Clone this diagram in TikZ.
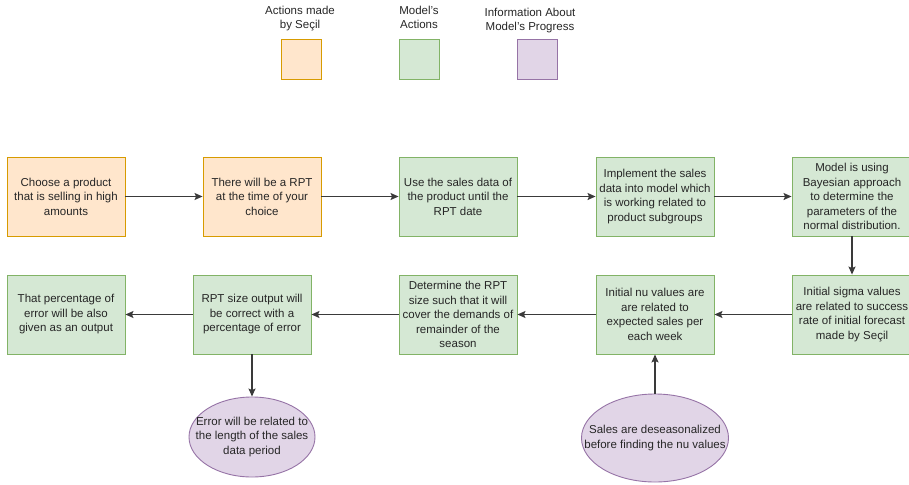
\documentclass[tikz,border=0pt]{standalone}
\usepackage{fontspec}
\setmainfont{Liberation Sans}
\usetikzlibrary{arrows.meta,shapes.geometric}

\definecolor{orfill}{HTML}{FFE6CC}
\definecolor{ordraw}{HTML}{D79B00}
\definecolor{grfill}{HTML}{D5E8D4}
\definecolor{grdraw}{HTML}{82B366}
\definecolor{pufill}{HTML}{E1D5E7}
\definecolor{pudraw}{HTML}{9673A6}
\definecolor{txt}{HTML}{262626}
\definecolor{link}{HTML}{3A3A3A}

\tikzset{
  lbl/.style={font=\fontsize{11.5}{14}\selectfont, text=txt, align=center, inner sep=0pt},
  notetext/.style={font=\fontsize{11.5}{14.5}\selectfont, text=txt, align=center, inner sep=0pt},
  stepbox/.style={rectangle, draw, line width=0.9pt, minimum width=118pt, minimum height=79pt,
    inner sep=1pt, align=center, font=\fontsize{11.5}{14.5}\selectfont, text=txt},
  seciltask/.style={stepbox, fill=orfill, draw=ordraw},
  modeltask/.style={stepbox, fill=grfill, draw=grdraw},
  swatch/.style={rectangle, draw, line width=0.9pt, minimum width=40pt, minimum height=40pt, inner sep=0pt},
  infonote/.style={ellipse, draw=pudraw, fill=pufill, line width=0.9pt, inner sep=0pt},
  flow/.style={draw=link, line width=1.2pt, -{Stealth[length=8pt,width=7pt,inset=1.5pt]}}
}

\begin{document}
\begin{tikzpicture}[x=1pt,y=-1pt]
\useasboundingbox (0,0) rectangle (909,484);

% legend
\node[lbl] (legA) at (300,19) {Actions made\\by Seçil};
\node[lbl] (legB) at (419,17) {Model's\\Actions};
\node[lbl] (legC) at (530,21) {Information About\\Model's Progress};
\node[swatch, fill=orfill, draw=ordraw] (swA) at (301,59) {};
\node[swatch, fill=grfill, draw=grdraw] (swB) at (419,59) {};
\node[swatch, fill=pufill, draw=pudraw] (swC) at (537,59) {};

% first row
\node[seciltask] (choose) at (66,196.5) {Choose a product\\that is selling in high\\amounts};
\node[seciltask] (rpt) at (262,196.5) {There will be a RPT\\at the time of your\\choice};
\node[modeltask] (usedata) at (458,196.5) {Use the sales data of\\the product until the\\RPT date};
\node[modeltask] (implement) at (655,196.5) {Implement the sales\\data into model which\\is working related to\\product subgroups};
\node[modeltask, minimum width=120pt] (bayes) at (852,196.5) {Model is using\\Bayesian approach\\to determine the\\parameters of the\\normal distribution.};

% second row
\node[modeltask] (pctout) at (66,314.5) {That percentage of\\error will be also\\given as an output};
\node[modeltask] (sizeout) at (252,314.5) {RPT size output will\\be correct with a\\percentage of error};
\node[modeltask] (determine) at (458,314.5) {Determine the RPT\\size such that it will\\cover the demands of\\remainder of the\\season};
\node[modeltask] (nu) at (655,314.5) {Initial nu values are\\are related to\\expected sales per\\each week};
\node[modeltask, minimum width=120pt] (sigma) at (852,314.5) {Initial sigma values\\are related to success\\rate of initial forecast\\made by Seçil};

% notes: fixed-size ellipses, text set on top
\node[infonote, minimum width=126pt, minimum height=80pt] (errnote) at (252,437) {};
\node[notetext] (errtext) at (errnote.center) {Error will be related to\\the length of the sales\\data period};
\node[infonote, minimum width=147pt, minimum height=88pt] (seasnote) at (655,438) {};
\node[notetext] (seastext) at (seasnote.center) {Sales are deseasonalized\\before finding the nu values};

% connectors
\draw[flow] (choose) -- (rpt);
\draw[flow] (rpt) -- (usedata);
\draw[flow] (usedata) -- (implement);
\draw[flow] (implement) -- (bayes);
\draw[flow] (bayes) -- (sigma);
\draw[flow] (sigma) -- (nu);
\draw[flow] (nu) -- (determine);
\draw[flow] (determine) -- (sizeout);
\draw[flow] (sizeout) -- (pctout);
\draw[flow] (sizeout) -- (errnote);
\draw[flow] (seasnote) -- (nu);
\end{tikzpicture}
\end{document}
